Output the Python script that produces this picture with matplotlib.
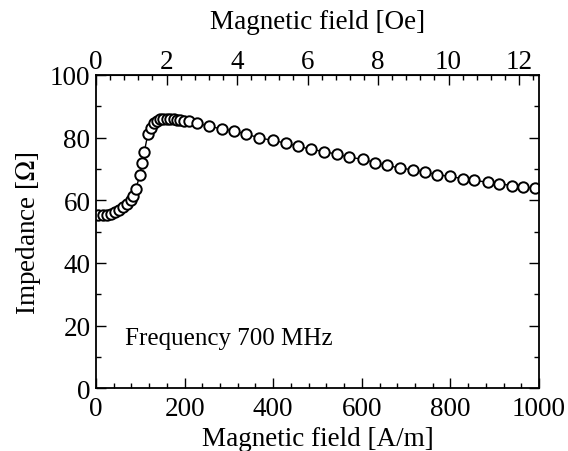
import matplotlib
matplotlib.use('Agg')

import matplotlib.pyplot as plt
from matplotlib.ticker import MultipleLocator, AutoMinorLocator

plt.rcParams['font.family'] = ['Liberation Serif', 'DejaVu Serif']
plt.rcParams['mathtext.fontset'] = 'stix'

# magnetic field [A/m] and impedance [Ohm]
field = [5, 15, 24, 33, 43, 53, 62, 71, 78, 84, 90, 99, 104, 109, 117, 124,
         131, 137, 144, 152, 160, 167, 175, 182, 190, 199, 211, 227, 254, 284,
         312, 339, 369, 399, 429, 457, 485, 515, 544, 572, 602, 630, 656, 686,
         715, 743, 770, 798, 828, 853, 884, 910, 938, 963, 991]
impedance = [55.4, 55.4, 55.4, 55.6, 56.1, 56.8, 57.7, 58.8, 60.2, 61.4, 63.7,
             67.9, 71.8, 75.4, 81.1, 83.2, 84.6, 85.3, 85.9, 85.9, 86.0, 85.9,
             85.8, 85.6, 85.5, 85.4, 85.2, 84.7, 83.6, 82.8, 82.1, 81.1, 79.9,
             79.1, 78.2, 77.2, 76.3, 75.5, 74.7, 73.7, 73.1, 72.0, 71.1, 70.3,
             69.7, 68.9, 68.2, 67.6, 66.9, 66.3, 65.8, 65.3, 64.7, 64.2, 63.9]

AM_PER_OE = 1000 / (4 * 3.141592653589793)


def run():
    fig = plt.figure(figsize=(5.68, 4.52), dpi=100)
    ax = fig.add_axes([0.169, 0.139, 0.780, 0.693])

    ax.plot(field, impedance, '-o', color='black', lw=1.0, ms=7.5,
            mfc='white', mec='black', mew=1.4)

    ax.set_xlim(0, 1000)
    ax.set_ylim(0, 100)
    ax.xaxis.set_major_locator(MultipleLocator(200))
    ax.xaxis.set_minor_locator(AutoMinorLocator(5))
    ax.yaxis.set_major_locator(MultipleLocator(20))
    ax.yaxis.set_minor_locator(AutoMinorLocator(2))
    ax.tick_params(which='both', direction='in', right=True, top=False,
                   labelsize=19.5, width=1)
    ax.tick_params(axis='x', pad=5.5)
    ax.tick_params(axis='y', pad=4)
    ax.tick_params(which='major', length=7)
    ax.tick_params(which='minor', length=3.5)
    for s in ax.spines.values():
        s.set_linewidth(1.3)

    top = ax.secondary_xaxis('top', functions=(lambda x: x / AM_PER_OE,
                                               lambda x: x * AM_PER_OE))
    top.set_xticks([0, 2, 4, 6, 8, 10, 12])
    top.xaxis.set_minor_locator(AutoMinorLocator(5))
    top.tick_params(which='both', direction='in', labelsize=19.5, width=1,
                    pad=1)
    top.tick_params(which='major', length=7)
    top.tick_params(which='minor', length=3.5)
    top.set_xlabel('Magnetic field [Oe]', fontsize=19.5, labelpad=15)

    ax.set_xlabel('Magnetic field [A/m]', fontsize=19.5, labelpad=4)
    ax.set_ylabel('Impedance [$\\Omega$]', fontsize=19.5, labelpad=5)

    ax.text(65, 16, 'Frequency 700 MHz', fontsize=18, ha='left', va='center')

    return fig


def main():
    fig = run()
    fig.savefig('out.png', dpi=100)


if __name__ == '__main__':
    main()
